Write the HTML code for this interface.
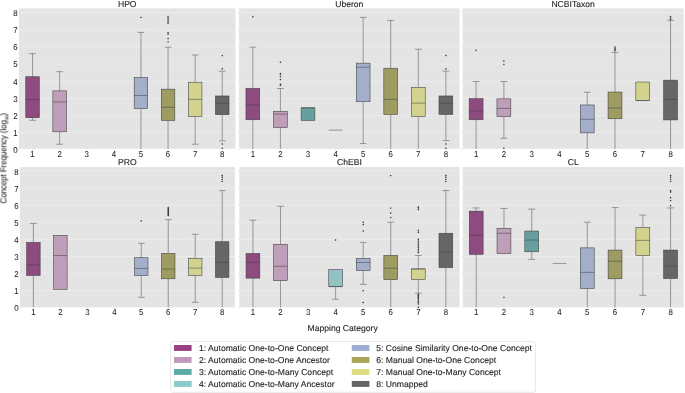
<!DOCTYPE html>
<html><head><meta charset="utf-8"><style>
html,body{margin:0;padding:0;background:#fff;}
svg{display:block;}
text{text-rendering:geometricPrecision;font-family:"Liberation Sans",sans-serif;fill:#262626;stroke:#262626;stroke-width:0.12px;}
.t{font-size:8.2px;}
.k{font-size:8.1px;stroke-width:0.05px;}
.l{font-size:8.2px;}
.yl{font-size:7.8px;stroke-width:0.08px;}
</style></head><body>
<svg width="685" height="393" viewBox="0 0 685 393"><defs><filter id="tb" x="-5%" y="-5%" width="110%" height="110%"><feGaussianBlur stdDeviation="0.35"/></filter></defs>
<rect x="19" y="8.4" width="216.5" height="140.4" fill="#e4e4e4"/>
<line x1="19" x2="235.5" y1="132.58" y2="132.58" stroke="#ececec" stroke-width="0.9"/>
<line x1="19" x2="235.5" y1="115.46" y2="115.46" stroke="#ececec" stroke-width="0.9"/>
<line x1="19" x2="235.5" y1="98.34" y2="98.34" stroke="#ececec" stroke-width="0.9"/>
<line x1="19" x2="235.5" y1="81.22" y2="81.22" stroke="#ececec" stroke-width="0.9"/>
<line x1="19" x2="235.5" y1="64.1" y2="64.1" stroke="#ececec" stroke-width="0.9"/>
<line x1="19" x2="235.5" y1="46.98" y2="46.98" stroke="#ececec" stroke-width="0.9"/>
<line x1="19" x2="235.5" y1="29.86" y2="29.86" stroke="#ececec" stroke-width="0.9"/>
<line x1="19" x2="235.5" y1="12.74" y2="12.74" stroke="#ececec" stroke-width="0.9"/>
<line x1="17.4" x2="19" y1="149.7" y2="149.7" stroke="#d6d6d6" stroke-width="0.6"/>
<line x1="17.4" x2="19" y1="132.58" y2="132.58" stroke="#d6d6d6" stroke-width="0.6"/>
<line x1="17.4" x2="19" y1="115.46" y2="115.46" stroke="#d6d6d6" stroke-width="0.6"/>
<line x1="17.4" x2="19" y1="98.34" y2="98.34" stroke="#d6d6d6" stroke-width="0.6"/>
<line x1="17.4" x2="19" y1="81.22" y2="81.22" stroke="#d6d6d6" stroke-width="0.6"/>
<line x1="17.4" x2="19" y1="64.1" y2="64.1" stroke="#d6d6d6" stroke-width="0.6"/>
<line x1="17.4" x2="19" y1="46.98" y2="46.98" stroke="#d6d6d6" stroke-width="0.6"/>
<line x1="17.4" x2="19" y1="29.86" y2="29.86" stroke="#d6d6d6" stroke-width="0.6"/>
<line x1="17.4" x2="19" y1="12.74" y2="12.74" stroke="#d6d6d6" stroke-width="0.6"/>
<line x1="32.55" x2="32.55" y1="148.8" y2="150.4" stroke="#d0d0d0" stroke-width="0.6"/>
<line x1="59.65" x2="59.65" y1="148.8" y2="150.4" stroke="#d0d0d0" stroke-width="0.6"/>
<line x1="86.75" x2="86.75" y1="148.8" y2="150.4" stroke="#d0d0d0" stroke-width="0.6"/>
<line x1="113.85" x2="113.85" y1="148.8" y2="150.4" stroke="#d0d0d0" stroke-width="0.6"/>
<line x1="140.95" x2="140.95" y1="148.8" y2="150.4" stroke="#d0d0d0" stroke-width="0.6"/>
<line x1="168.05" x2="168.05" y1="148.8" y2="150.4" stroke="#d0d0d0" stroke-width="0.6"/>
<line x1="195.15" x2="195.15" y1="148.8" y2="150.4" stroke="#d0d0d0" stroke-width="0.6"/>
<line x1="222.25" x2="222.25" y1="148.8" y2="150.4" stroke="#d0d0d0" stroke-width="0.6"/>
<line x1="32.55" x2="32.55" y1="117.72" y2="120.27" stroke="#6c6c6c" stroke-width="0.65"/>
<line x1="29.16" x2="35.94" y1="120.27" y2="120.27" stroke="#6c6c6c" stroke-width="0.65"/>
<line x1="32.55" x2="32.55" y1="76.75" y2="53.63" stroke="#6c6c6c" stroke-width="0.65"/>
<line x1="29.16" x2="35.94" y1="53.63" y2="53.63" stroke="#6c6c6c" stroke-width="0.65"/>
<rect x="25.77" y="76.75" width="13.55" height="40.97" fill="#8e4b7f" stroke="#3d3d3d" stroke-width="0.55"/>
<line x1="25.77" x2="39.32" y1="99.53" y2="99.53" stroke="#3d3d3d" stroke-width="0.5"/>
<line x1="59.65" x2="59.65" y1="131.83" y2="144.24" stroke="#6c6c6c" stroke-width="0.65"/>
<line x1="56.26" x2="63.04" y1="144.24" y2="144.24" stroke="#6c6c6c" stroke-width="0.65"/>
<line x1="59.65" x2="59.65" y1="90.86" y2="71.65" stroke="#6c6c6c" stroke-width="0.65"/>
<line x1="56.26" x2="63.04" y1="71.65" y2="71.65" stroke="#6c6c6c" stroke-width="0.65"/>
<rect x="52.88" y="90.86" width="13.55" height="40.97" fill="#be9eb8" stroke="#3d3d3d" stroke-width="0.55"/>
<line x1="52.88" x2="66.42" y1="101.91" y2="101.91" stroke="#3d3d3d" stroke-width="0.5"/>
<line x1="140.95" x2="140.95" y1="108.54" y2="148.8" stroke="#6c6c6c" stroke-width="0.65"/>
<line x1="140.95" x2="140.95" y1="77.6" y2="32.38" stroke="#6c6c6c" stroke-width="0.65"/>
<line x1="137.56" x2="144.34" y1="32.38" y2="32.38" stroke="#6c6c6c" stroke-width="0.65"/>
<rect x="134.17" y="77.6" width="13.55" height="30.94" fill="#a3aecb" stroke="#3d3d3d" stroke-width="0.55"/>
<line x1="134.17" x2="147.72" y1="95.45" y2="95.45" stroke="#3d3d3d" stroke-width="0.5"/>
<path d="M140.95 16.47l0.95 0.95l-0.95 0.95l-0.95 -0.95z" fill="#3a3a3a"/>
<line x1="168.05" x2="168.05" y1="120.44" y2="148.8" stroke="#6c6c6c" stroke-width="0.65"/>
<line x1="168.05" x2="168.05" y1="89.16" y2="47.17" stroke="#6c6c6c" stroke-width="0.65"/>
<line x1="164.66" x2="171.44" y1="47.17" y2="47.17" stroke="#6c6c6c" stroke-width="0.65"/>
<rect x="161.28" y="89.16" width="13.55" height="31.28" fill="#9e9c62" stroke="#3d3d3d" stroke-width="0.55"/>
<line x1="161.28" x2="174.83" y1="107.35" y2="107.35" stroke="#3d3d3d" stroke-width="0.5"/>
<path d="M168.05 15.62l0.95 0.95l-0.95 0.95l-0.95 -0.95z" fill="#3a3a3a"/>
<path d="M168.05 17.32l0.95 0.95l-0.95 0.95l-0.95 -0.95z" fill="#3a3a3a"/>
<path d="M168.05 19.02l0.95 0.95l-0.95 0.95l-0.95 -0.95z" fill="#3a3a3a"/>
<path d="M168.05 20.72l0.95 0.95l-0.95 0.95l-0.95 -0.95z" fill="#3a3a3a"/>
<path d="M168.05 22.25l0.95 0.95l-0.95 0.95l-0.95 -0.95z" fill="#3a3a3a"/>
<path d="M168.05 31.77l0.95 0.95l-0.95 0.95l-0.95 -0.95z" fill="#3a3a3a"/>
<path d="M168.05 33.13l0.95 0.95l-0.95 0.95l-0.95 -0.95z" fill="#3a3a3a"/>
<path d="M168.05 37.55l0.95 0.95l-0.95 0.95l-0.95 -0.95z" fill="#3a3a3a"/>
<path d="M168.05 40.95l0.95 0.95l-0.95 0.95l-0.95 -0.95z" fill="#3a3a3a"/>
<line x1="195.15" x2="195.15" y1="116.36" y2="144.24" stroke="#6c6c6c" stroke-width="0.65"/>
<line x1="191.76" x2="198.54" y1="144.24" y2="144.24" stroke="#6c6c6c" stroke-width="0.65"/>
<line x1="195.15" x2="195.15" y1="82.19" y2="54.99" stroke="#6c6c6c" stroke-width="0.65"/>
<line x1="191.76" x2="198.54" y1="54.99" y2="54.99" stroke="#6c6c6c" stroke-width="0.65"/>
<rect x="188.38" y="82.19" width="13.55" height="34.17" fill="#d2d38f" stroke="#3d3d3d" stroke-width="0.55"/>
<line x1="188.38" x2="201.93" y1="99.36" y2="99.36" stroke="#3d3d3d" stroke-width="0.5"/>
<line x1="222.25" x2="222.25" y1="114.66" y2="140.84" stroke="#6c6c6c" stroke-width="0.65"/>
<line x1="218.86" x2="225.64" y1="140.84" y2="140.84" stroke="#6c6c6c" stroke-width="0.65"/>
<line x1="222.25" x2="222.25" y1="95.96" y2="71.14" stroke="#6c6c6c" stroke-width="0.65"/>
<line x1="218.86" x2="225.64" y1="71.14" y2="71.14" stroke="#6c6c6c" stroke-width="0.65"/>
<rect x="215.47" y="95.96" width="13.55" height="18.7" fill="#666666" stroke="#3d3d3d" stroke-width="0.55"/>
<line x1="215.47" x2="229.03" y1="103.27" y2="103.27" stroke="#3d3d3d" stroke-width="0.5"/>
<path d="M222.25 54.72l0.95 0.95l-0.95 0.95l-0.95 -0.95z" fill="#3a3a3a"/>
<path d="M222.25 67.81l0.95 0.95l-0.95 0.95l-0.95 -0.95z" fill="#3a3a3a"/>
<path d="M222.25 143.12l0.95 0.95l-0.95 0.95l-0.95 -0.95z" fill="#3a3a3a"/>
<path d="M222.25 147.2l0.95 0.95l-0.95 0.95l-0.95 -0.95z" fill="#3a3a3a"/>
<rect x="239" y="8.4" width="220.6" height="140.4" fill="#e4e4e4"/>
<line x1="239" x2="459.6" y1="132.58" y2="132.58" stroke="#ececec" stroke-width="0.9"/>
<line x1="239" x2="459.6" y1="115.46" y2="115.46" stroke="#ececec" stroke-width="0.9"/>
<line x1="239" x2="459.6" y1="98.34" y2="98.34" stroke="#ececec" stroke-width="0.9"/>
<line x1="239" x2="459.6" y1="81.22" y2="81.22" stroke="#ececec" stroke-width="0.9"/>
<line x1="239" x2="459.6" y1="64.1" y2="64.1" stroke="#ececec" stroke-width="0.9"/>
<line x1="239" x2="459.6" y1="46.98" y2="46.98" stroke="#ececec" stroke-width="0.9"/>
<line x1="239" x2="459.6" y1="29.86" y2="29.86" stroke="#ececec" stroke-width="0.9"/>
<line x1="239" x2="459.6" y1="12.74" y2="12.74" stroke="#ececec" stroke-width="0.9"/>
<line x1="237.4" x2="239" y1="149.7" y2="149.7" stroke="#d6d6d6" stroke-width="0.6"/>
<line x1="237.4" x2="239" y1="132.58" y2="132.58" stroke="#d6d6d6" stroke-width="0.6"/>
<line x1="237.4" x2="239" y1="115.46" y2="115.46" stroke="#d6d6d6" stroke-width="0.6"/>
<line x1="237.4" x2="239" y1="98.34" y2="98.34" stroke="#d6d6d6" stroke-width="0.6"/>
<line x1="237.4" x2="239" y1="81.22" y2="81.22" stroke="#d6d6d6" stroke-width="0.6"/>
<line x1="237.4" x2="239" y1="64.1" y2="64.1" stroke="#d6d6d6" stroke-width="0.6"/>
<line x1="237.4" x2="239" y1="46.98" y2="46.98" stroke="#d6d6d6" stroke-width="0.6"/>
<line x1="237.4" x2="239" y1="29.86" y2="29.86" stroke="#d6d6d6" stroke-width="0.6"/>
<line x1="237.4" x2="239" y1="12.74" y2="12.74" stroke="#d6d6d6" stroke-width="0.6"/>
<line x1="252.85" x2="252.85" y1="148.8" y2="150.4" stroke="#d0d0d0" stroke-width="0.6"/>
<line x1="280.43" x2="280.43" y1="148.8" y2="150.4" stroke="#d0d0d0" stroke-width="0.6"/>
<line x1="308" x2="308" y1="148.8" y2="150.4" stroke="#d0d0d0" stroke-width="0.6"/>
<line x1="335.57" x2="335.57" y1="148.8" y2="150.4" stroke="#d0d0d0" stroke-width="0.6"/>
<line x1="363.15" x2="363.15" y1="148.8" y2="150.4" stroke="#d0d0d0" stroke-width="0.6"/>
<line x1="390.73" x2="390.73" y1="148.8" y2="150.4" stroke="#d0d0d0" stroke-width="0.6"/>
<line x1="418.3" x2="418.3" y1="148.8" y2="150.4" stroke="#d0d0d0" stroke-width="0.6"/>
<line x1="445.88" x2="445.88" y1="148.8" y2="150.4" stroke="#d0d0d0" stroke-width="0.6"/>
<line x1="252.85" x2="252.85" y1="119.76" y2="148.8" stroke="#6c6c6c" stroke-width="0.65"/>
<line x1="252.85" x2="252.85" y1="88.48" y2="47.17" stroke="#6c6c6c" stroke-width="0.65"/>
<line x1="249.4" x2="256.3" y1="47.17" y2="47.17" stroke="#6c6c6c" stroke-width="0.65"/>
<rect x="245.96" y="88.48" width="13.79" height="31.28" fill="#8e4b7f" stroke="#3d3d3d" stroke-width="0.55"/>
<line x1="245.96" x2="259.74" y1="104.97" y2="104.97" stroke="#3d3d3d" stroke-width="0.5"/>
<path d="M252.85 15.79l0.95 0.95l-0.95 0.95l-0.95 -0.95z" fill="#3a3a3a"/>
<line x1="280.43" x2="280.43" y1="127.58" y2="148.8" stroke="#6c6c6c" stroke-width="0.65"/>
<line x1="280.43" x2="280.43" y1="111.26" y2="88.48" stroke="#6c6c6c" stroke-width="0.65"/>
<line x1="276.98" x2="283.87" y1="88.48" y2="88.48" stroke="#6c6c6c" stroke-width="0.65"/>
<rect x="273.53" y="111.26" width="13.79" height="16.32" fill="#be9eb8" stroke="#3d3d3d" stroke-width="0.55"/>
<line x1="273.53" x2="287.32" y1="114.15" y2="114.15" stroke="#3d3d3d" stroke-width="0.5"/>
<path d="M280.43 61.35l0.95 0.95l-0.95 0.95l-0.95 -0.95z" fill="#3a3a3a"/>
<path d="M280.43 72.66l0.95 0.95l-0.95 0.95l-0.95 -0.95z" fill="#3a3a3a"/>
<path d="M280.43 73.42l0.95 0.95l-0.95 0.95l-0.95 -0.95z" fill="#3a3a3a"/>
<path d="M280.43 75.63l0.95 0.95l-0.95 0.95l-0.95 -0.95z" fill="#3a3a3a"/>
<path d="M280.43 78.52l0.95 0.95l-0.95 0.95l-0.95 -0.95z" fill="#3a3a3a"/>
<path d="M280.43 83.28l0.95 0.95l-0.95 0.95l-0.95 -0.95z" fill="#3a3a3a"/>
<path d="M280.43 84.3l0.95 0.95l-0.95 0.95l-0.95 -0.95z" fill="#3a3a3a"/>
<rect x="301.11" y="107.86" width="13.79" height="12.58" fill="#66a09e" stroke="#3d3d3d" stroke-width="0.55"/>
<line x1="301.11" x2="314.89" y1="107.86" y2="107.86" stroke="#3d3d3d" stroke-width="0.5"/>
<line x1="328.68" x2="342.47" y1="130.12" y2="130.12" stroke="#9a9a9a" stroke-width="1.1"/>
<line x1="363.15" x2="363.15" y1="101.74" y2="143.56" stroke="#6c6c6c" stroke-width="0.65"/>
<line x1="359.7" x2="366.6" y1="143.56" y2="143.56" stroke="#6c6c6c" stroke-width="0.65"/>
<line x1="363.15" x2="363.15" y1="63.15" y2="17.42" stroke="#6c6c6c" stroke-width="0.65"/>
<line x1="359.7" x2="366.6" y1="17.42" y2="17.42" stroke="#6c6c6c" stroke-width="0.65"/>
<rect x="356.26" y="63.15" width="13.79" height="38.59" fill="#a3aecb" stroke="#3d3d3d" stroke-width="0.55"/>
<line x1="356.26" x2="370.04" y1="67.23" y2="67.23" stroke="#3d3d3d" stroke-width="0.5"/>
<line x1="390.73" x2="390.73" y1="114.49" y2="148.8" stroke="#6c6c6c" stroke-width="0.65"/>
<line x1="390.73" x2="390.73" y1="68.25" y2="20.48" stroke="#6c6c6c" stroke-width="0.65"/>
<line x1="387.28" x2="394.17" y1="20.48" y2="20.48" stroke="#6c6c6c" stroke-width="0.65"/>
<rect x="383.83" y="68.25" width="13.79" height="46.24" fill="#9e9c62" stroke="#3d3d3d" stroke-width="0.55"/>
<line x1="383.83" x2="397.62" y1="99.36" y2="99.36" stroke="#3d3d3d" stroke-width="0.5"/>
<line x1="418.3" x2="418.3" y1="116.36" y2="148.8" stroke="#6c6c6c" stroke-width="0.65"/>
<line x1="418.3" x2="418.3" y1="87.29" y2="49.21" stroke="#6c6c6c" stroke-width="0.65"/>
<line x1="414.85" x2="421.75" y1="49.21" y2="49.21" stroke="#6c6c6c" stroke-width="0.65"/>
<rect x="411.41" y="87.29" width="13.79" height="29.07" fill="#d2d38f" stroke="#3d3d3d" stroke-width="0.55"/>
<line x1="411.41" x2="425.19" y1="103.1" y2="103.1" stroke="#3d3d3d" stroke-width="0.5"/>
<line x1="445.88" x2="445.88" y1="114.49" y2="140.67" stroke="#6c6c6c" stroke-width="0.65"/>
<line x1="442.43" x2="449.32" y1="140.67" y2="140.67" stroke="#6c6c6c" stroke-width="0.65"/>
<line x1="445.88" x2="445.88" y1="95.96" y2="71.14" stroke="#6c6c6c" stroke-width="0.65"/>
<line x1="442.43" x2="449.32" y1="71.14" y2="71.14" stroke="#6c6c6c" stroke-width="0.65"/>
<rect x="438.98" y="95.96" width="13.79" height="18.53" fill="#666666" stroke="#3d3d3d" stroke-width="0.55"/>
<line x1="438.98" x2="452.77" y1="103.1" y2="103.1" stroke="#3d3d3d" stroke-width="0.5"/>
<path d="M445.88 54.55l0.95 0.95l-0.95 0.95l-0.95 -0.95z" fill="#3a3a3a"/>
<path d="M445.88 67.98l0.95 0.95l-0.95 0.95l-0.95 -0.95z" fill="#3a3a3a"/>
<path d="M445.88 143.12l0.95 0.95l-0.95 0.95l-0.95 -0.95z" fill="#3a3a3a"/>
<path d="M445.88 147.2l0.95 0.95l-0.95 0.95l-0.95 -0.95z" fill="#3a3a3a"/>
<rect x="462.6" y="8.4" width="221.1" height="140.4" fill="#e4e4e4"/>
<line x1="462.6" x2="683.7" y1="132.58" y2="132.58" stroke="#ececec" stroke-width="0.9"/>
<line x1="462.6" x2="683.7" y1="115.46" y2="115.46" stroke="#ececec" stroke-width="0.9"/>
<line x1="462.6" x2="683.7" y1="98.34" y2="98.34" stroke="#ececec" stroke-width="0.9"/>
<line x1="462.6" x2="683.7" y1="81.22" y2="81.22" stroke="#ececec" stroke-width="0.9"/>
<line x1="462.6" x2="683.7" y1="64.1" y2="64.1" stroke="#ececec" stroke-width="0.9"/>
<line x1="462.6" x2="683.7" y1="46.98" y2="46.98" stroke="#ececec" stroke-width="0.9"/>
<line x1="462.6" x2="683.7" y1="29.86" y2="29.86" stroke="#ececec" stroke-width="0.9"/>
<line x1="462.6" x2="683.7" y1="12.74" y2="12.74" stroke="#ececec" stroke-width="0.9"/>
<line x1="461" x2="462.6" y1="149.7" y2="149.7" stroke="#d6d6d6" stroke-width="0.6"/>
<line x1="461" x2="462.6" y1="132.58" y2="132.58" stroke="#d6d6d6" stroke-width="0.6"/>
<line x1="461" x2="462.6" y1="115.46" y2="115.46" stroke="#d6d6d6" stroke-width="0.6"/>
<line x1="461" x2="462.6" y1="98.34" y2="98.34" stroke="#d6d6d6" stroke-width="0.6"/>
<line x1="461" x2="462.6" y1="81.22" y2="81.22" stroke="#d6d6d6" stroke-width="0.6"/>
<line x1="461" x2="462.6" y1="64.1" y2="64.1" stroke="#d6d6d6" stroke-width="0.6"/>
<line x1="461" x2="462.6" y1="46.98" y2="46.98" stroke="#d6d6d6" stroke-width="0.6"/>
<line x1="461" x2="462.6" y1="29.86" y2="29.86" stroke="#d6d6d6" stroke-width="0.6"/>
<line x1="461" x2="462.6" y1="12.74" y2="12.74" stroke="#d6d6d6" stroke-width="0.6"/>
<line x1="476.1" x2="476.1" y1="148.8" y2="150.4" stroke="#d0d0d0" stroke-width="0.6"/>
<line x1="503.88" x2="503.88" y1="148.8" y2="150.4" stroke="#d0d0d0" stroke-width="0.6"/>
<line x1="531.66" x2="531.66" y1="148.8" y2="150.4" stroke="#d0d0d0" stroke-width="0.6"/>
<line x1="559.44" x2="559.44" y1="148.8" y2="150.4" stroke="#d0d0d0" stroke-width="0.6"/>
<line x1="587.22" x2="587.22" y1="148.8" y2="150.4" stroke="#d0d0d0" stroke-width="0.6"/>
<line x1="615" x2="615" y1="148.8" y2="150.4" stroke="#d0d0d0" stroke-width="0.6"/>
<line x1="642.78" x2="642.78" y1="148.8" y2="150.4" stroke="#d0d0d0" stroke-width="0.6"/>
<line x1="670.56" x2="670.56" y1="148.8" y2="150.4" stroke="#d0d0d0" stroke-width="0.6"/>
<line x1="476.1" x2="476.1" y1="119.76" y2="148.8" stroke="#6c6c6c" stroke-width="0.65"/>
<line x1="476.1" x2="476.1" y1="98.68" y2="81.51" stroke="#6c6c6c" stroke-width="0.65"/>
<line x1="472.63" x2="479.57" y1="81.51" y2="81.51" stroke="#6c6c6c" stroke-width="0.65"/>
<rect x="469.16" y="98.68" width="13.89" height="21.08" fill="#8e4b7f" stroke="#3d3d3d" stroke-width="0.55"/>
<line x1="469.16" x2="483.05" y1="110.92" y2="110.92" stroke="#3d3d3d" stroke-width="0.5"/>
<path d="M476.1 49.28l0.95 0.95l-0.95 0.95l-0.95 -0.95z" fill="#3a3a3a"/>
<line x1="503.88" x2="503.88" y1="116.53" y2="138.29" stroke="#6c6c6c" stroke-width="0.65"/>
<line x1="500.41" x2="507.35" y1="138.29" y2="138.29" stroke="#6c6c6c" stroke-width="0.65"/>
<line x1="503.88" x2="503.88" y1="98.85" y2="81.51" stroke="#6c6c6c" stroke-width="0.65"/>
<line x1="500.41" x2="507.35" y1="81.51" y2="81.51" stroke="#6c6c6c" stroke-width="0.65"/>
<rect x="496.94" y="98.85" width="13.89" height="17.68" fill="#be9eb8" stroke="#3d3d3d" stroke-width="0.55"/>
<line x1="496.94" x2="510.82" y1="108.37" y2="108.37" stroke="#3d3d3d" stroke-width="0.5"/>
<path d="M503.88 59.99l0.95 0.95l-0.95 0.95l-0.95 -0.95z" fill="#3a3a3a"/>
<path d="M503.88 63.39l0.95 0.95l-0.95 0.95l-0.95 -0.95z" fill="#3a3a3a"/>
<path d="M503.88 147.2l0.95 0.95l-0.95 0.95l-0.95 -0.95z" fill="#3a3a3a"/>
<line x1="587.22" x2="587.22" y1="132.85" y2="148.8" stroke="#6c6c6c" stroke-width="0.65"/>
<line x1="587.22" x2="587.22" y1="104.97" y2="92.22" stroke="#6c6c6c" stroke-width="0.65"/>
<line x1="583.75" x2="590.69" y1="92.22" y2="92.22" stroke="#6c6c6c" stroke-width="0.65"/>
<rect x="580.27" y="104.97" width="13.89" height="27.88" fill="#a3aecb" stroke="#3d3d3d" stroke-width="0.55"/>
<line x1="580.27" x2="594.17" y1="119.25" y2="119.25" stroke="#3d3d3d" stroke-width="0.5"/>
<line x1="615" x2="615" y1="118.74" y2="148.8" stroke="#6c6c6c" stroke-width="0.65"/>
<line x1="615" x2="615" y1="92.05" y2="52.44" stroke="#6c6c6c" stroke-width="0.65"/>
<line x1="611.53" x2="618.47" y1="52.44" y2="52.44" stroke="#6c6c6c" stroke-width="0.65"/>
<rect x="608.05" y="92.05" width="13.89" height="26.69" fill="#9e9c62" stroke="#3d3d3d" stroke-width="0.55"/>
<line x1="608.05" x2="621.95" y1="108.03" y2="108.03" stroke="#3d3d3d" stroke-width="0.5"/>
<path d="M615 49.79l0.95 0.95l-0.95 0.95l-0.95 -0.95z" fill="#3a3a3a"/>
<path d="M615 48.6l0.95 0.95l-0.95 0.95l-0.95 -0.95z" fill="#3a3a3a"/>
<path d="M615 47.41l0.95 0.95l-0.95 0.95l-0.95 -0.95z" fill="#3a3a3a"/>
<path d="M615 46.05l0.95 0.95l-0.95 0.95l-0.95 -0.95z" fill="#3a3a3a"/>
<rect x="635.83" y="82.02" width="13.89" height="18.53" fill="#d2d38f" stroke="#3d3d3d" stroke-width="0.55"/>
<line x1="635.83" x2="649.73" y1="100.55" y2="100.55" stroke="#3d3d3d" stroke-width="0.5"/>
<line x1="670.56" x2="670.56" y1="119.93" y2="148.8" stroke="#6c6c6c" stroke-width="0.65"/>
<line x1="670.56" x2="670.56" y1="80.15" y2="20.31" stroke="#6c6c6c" stroke-width="0.65"/>
<line x1="667.09" x2="674.03" y1="20.31" y2="20.31" stroke="#6c6c6c" stroke-width="0.65"/>
<rect x="663.62" y="80.15" width="13.89" height="39.78" fill="#666666" stroke="#3d3d3d" stroke-width="0.55"/>
<line x1="663.62" x2="677.51" y1="99.36" y2="99.36" stroke="#3d3d3d" stroke-width="0.5"/>
<path d="M670.56 18.51l0.95 0.95l-0.95 0.95l-0.95 -0.95z" fill="#3a3a3a"/>
<path d="M670.56 17.15l0.95 0.95l-0.95 0.95l-0.95 -0.95z" fill="#3a3a3a"/>
<path d="M670.56 15.79l0.95 0.95l-0.95 0.95l-0.95 -0.95z" fill="#3a3a3a"/>
<rect x="19.9" y="167.1" width="215" height="140.3" fill="#e4e4e4"/>
<line x1="19.9" x2="234.9" y1="290.77" y2="290.77" stroke="#ececec" stroke-width="0.9"/>
<line x1="19.9" x2="234.9" y1="273.64" y2="273.64" stroke="#ececec" stroke-width="0.9"/>
<line x1="19.9" x2="234.9" y1="256.51" y2="256.51" stroke="#ececec" stroke-width="0.9"/>
<line x1="19.9" x2="234.9" y1="239.38" y2="239.38" stroke="#ececec" stroke-width="0.9"/>
<line x1="19.9" x2="234.9" y1="222.25" y2="222.25" stroke="#ececec" stroke-width="0.9"/>
<line x1="19.9" x2="234.9" y1="205.12" y2="205.12" stroke="#ececec" stroke-width="0.9"/>
<line x1="19.9" x2="234.9" y1="187.99" y2="187.99" stroke="#ececec" stroke-width="0.9"/>
<line x1="19.9" x2="234.9" y1="170.86" y2="170.86" stroke="#ececec" stroke-width="0.9"/>
<line x1="18.3" x2="19.9" y1="307.9" y2="307.9" stroke="#d6d6d6" stroke-width="0.6"/>
<line x1="18.3" x2="19.9" y1="290.77" y2="290.77" stroke="#d6d6d6" stroke-width="0.6"/>
<line x1="18.3" x2="19.9" y1="273.64" y2="273.64" stroke="#d6d6d6" stroke-width="0.6"/>
<line x1="18.3" x2="19.9" y1="256.51" y2="256.51" stroke="#d6d6d6" stroke-width="0.6"/>
<line x1="18.3" x2="19.9" y1="239.38" y2="239.38" stroke="#d6d6d6" stroke-width="0.6"/>
<line x1="18.3" x2="19.9" y1="222.25" y2="222.25" stroke="#d6d6d6" stroke-width="0.6"/>
<line x1="18.3" x2="19.9" y1="205.12" y2="205.12" stroke="#d6d6d6" stroke-width="0.6"/>
<line x1="18.3" x2="19.9" y1="187.99" y2="187.99" stroke="#d6d6d6" stroke-width="0.6"/>
<line x1="18.3" x2="19.9" y1="170.86" y2="170.86" stroke="#d6d6d6" stroke-width="0.6"/>
<line x1="33.4" x2="33.4" y1="307.4" y2="309" stroke="#d0d0d0" stroke-width="0.6"/>
<line x1="60.37" x2="60.37" y1="307.4" y2="309" stroke="#d0d0d0" stroke-width="0.6"/>
<line x1="87.34" x2="87.34" y1="307.4" y2="309" stroke="#d0d0d0" stroke-width="0.6"/>
<line x1="114.31" x2="114.31" y1="307.4" y2="309" stroke="#d0d0d0" stroke-width="0.6"/>
<line x1="141.28" x2="141.28" y1="307.4" y2="309" stroke="#d0d0d0" stroke-width="0.6"/>
<line x1="168.25" x2="168.25" y1="307.4" y2="309" stroke="#d0d0d0" stroke-width="0.6"/>
<line x1="195.22" x2="195.22" y1="307.4" y2="309" stroke="#d0d0d0" stroke-width="0.6"/>
<line x1="222.19" x2="222.19" y1="307.4" y2="309" stroke="#d0d0d0" stroke-width="0.6"/>
<line x1="33.4" x2="33.4" y1="275.41" y2="307.2" stroke="#6c6c6c" stroke-width="0.65"/>
<line x1="33.4" x2="33.4" y1="242.43" y2="223.39" stroke="#6c6c6c" stroke-width="0.65"/>
<line x1="30.03" x2="36.77" y1="223.39" y2="223.39" stroke="#6c6c6c" stroke-width="0.65"/>
<rect x="26.66" y="242.43" width="13.48" height="32.98" fill="#8e4b7f" stroke="#3d3d3d" stroke-width="0.55"/>
<line x1="26.66" x2="40.14" y1="264.87" y2="264.87" stroke="#3d3d3d" stroke-width="0.5"/>
<rect x="53.63" y="235.29" width="13.48" height="54.06" fill="#be9eb8" stroke="#3d3d3d" stroke-width="0.55"/>
<line x1="53.63" x2="67.11" y1="255.52" y2="255.52" stroke="#3d3d3d" stroke-width="0.5"/>
<line x1="141.28" x2="141.28" y1="275.58" y2="297.34" stroke="#6c6c6c" stroke-width="0.65"/>
<line x1="137.91" x2="144.65" y1="297.34" y2="297.34" stroke="#6c6c6c" stroke-width="0.65"/>
<line x1="141.28" x2="141.28" y1="257.73" y2="243.28" stroke="#6c6c6c" stroke-width="0.65"/>
<line x1="137.91" x2="144.65" y1="243.28" y2="243.28" stroke="#6c6c6c" stroke-width="0.65"/>
<rect x="134.54" y="257.73" width="13.48" height="17.85" fill="#a3aecb" stroke="#3d3d3d" stroke-width="0.55"/>
<line x1="134.54" x2="148.02" y1="268.44" y2="268.44" stroke="#3d3d3d" stroke-width="0.5"/>
<path d="M141.28 220.06l0.95 0.95l-0.95 0.95l-0.95 -0.95z" fill="#3a3a3a"/>
<line x1="168.25" x2="168.25" y1="278.81" y2="307.2" stroke="#6c6c6c" stroke-width="0.65"/>
<line x1="168.25" x2="168.25" y1="253.48" y2="219.65" stroke="#6c6c6c" stroke-width="0.65"/>
<line x1="164.88" x2="171.62" y1="219.65" y2="219.65" stroke="#6c6c6c" stroke-width="0.65"/>
<rect x="161.51" y="253.48" width="13.48" height="25.33" fill="#9e9c62" stroke="#3d3d3d" stroke-width="0.55"/>
<line x1="161.51" x2="174.99" y1="269.12" y2="269.12" stroke="#3d3d3d" stroke-width="0.5"/>
<path d="M168.25 214.62l0.95 0.95l-0.95 0.95l-0.95 -0.95z" fill="#3a3a3a"/>
<path d="M168.25 213.6l0.95 0.95l-0.95 0.95l-0.95 -0.95z" fill="#3a3a3a"/>
<path d="M168.25 212.58l0.95 0.95l-0.95 0.95l-0.95 -0.95z" fill="#3a3a3a"/>
<path d="M168.25 211.56l0.95 0.95l-0.95 0.95l-0.95 -0.95z" fill="#3a3a3a"/>
<path d="M168.25 210.54l0.95 0.95l-0.95 0.95l-0.95 -0.95z" fill="#3a3a3a"/>
<path d="M168.25 209.52l0.95 0.95l-0.95 0.95l-0.95 -0.95z" fill="#3a3a3a"/>
<path d="M168.25 208.5l0.95 0.95l-0.95 0.95l-0.95 -0.95z" fill="#3a3a3a"/>
<path d="M168.25 207.48l0.95 0.95l-0.95 0.95l-0.95 -0.95z" fill="#3a3a3a"/>
<path d="M168.25 206.46l0.95 0.95l-0.95 0.95l-0.95 -0.95z" fill="#3a3a3a"/>
<line x1="195.22" x2="195.22" y1="275.58" y2="302.27" stroke="#6c6c6c" stroke-width="0.65"/>
<line x1="191.85" x2="198.59" y1="302.27" y2="302.27" stroke="#6c6c6c" stroke-width="0.65"/>
<line x1="195.22" x2="195.22" y1="258.24" y2="234.27" stroke="#6c6c6c" stroke-width="0.65"/>
<line x1="191.85" x2="198.59" y1="234.27" y2="234.27" stroke="#6c6c6c" stroke-width="0.65"/>
<rect x="188.48" y="258.24" width="13.48" height="17.34" fill="#d2d38f" stroke="#3d3d3d" stroke-width="0.55"/>
<line x1="188.48" x2="201.96" y1="268.1" y2="268.1" stroke="#3d3d3d" stroke-width="0.5"/>
<line x1="222.19" x2="222.19" y1="277.45" y2="307.2" stroke="#6c6c6c" stroke-width="0.65"/>
<line x1="222.19" x2="222.19" y1="241.75" y2="190.58" stroke="#6c6c6c" stroke-width="0.65"/>
<line x1="218.82" x2="225.56" y1="190.58" y2="190.58" stroke="#6c6c6c" stroke-width="0.65"/>
<rect x="215.45" y="241.75" width="13.48" height="35.7" fill="#666666" stroke="#3d3d3d" stroke-width="0.55"/>
<line x1="215.45" x2="228.93" y1="262.32" y2="262.32" stroke="#3d3d3d" stroke-width="0.5"/>
<path d="M222.19 174.5l0.95 0.95l-0.95 0.95l-0.95 -0.95z" fill="#3a3a3a"/>
<path d="M222.19 176.37l0.95 0.95l-0.95 0.95l-0.95 -0.95z" fill="#3a3a3a"/>
<path d="M222.19 178.41l0.95 0.95l-0.95 0.95l-0.95 -0.95z" fill="#3a3a3a"/>
<path d="M222.19 180.45l0.95 0.95l-0.95 0.95l-0.95 -0.95z" fill="#3a3a3a"/>
<rect x="239.4" y="167.1" width="220.2" height="140.3" fill="#e4e4e4"/>
<line x1="239.4" x2="459.6" y1="290.77" y2="290.77" stroke="#ececec" stroke-width="0.9"/>
<line x1="239.4" x2="459.6" y1="273.64" y2="273.64" stroke="#ececec" stroke-width="0.9"/>
<line x1="239.4" x2="459.6" y1="256.51" y2="256.51" stroke="#ececec" stroke-width="0.9"/>
<line x1="239.4" x2="459.6" y1="239.38" y2="239.38" stroke="#ececec" stroke-width="0.9"/>
<line x1="239.4" x2="459.6" y1="222.25" y2="222.25" stroke="#ececec" stroke-width="0.9"/>
<line x1="239.4" x2="459.6" y1="205.12" y2="205.12" stroke="#ececec" stroke-width="0.9"/>
<line x1="239.4" x2="459.6" y1="187.99" y2="187.99" stroke="#ececec" stroke-width="0.9"/>
<line x1="239.4" x2="459.6" y1="170.86" y2="170.86" stroke="#ececec" stroke-width="0.9"/>
<line x1="237.8" x2="239.4" y1="307.9" y2="307.9" stroke="#d6d6d6" stroke-width="0.6"/>
<line x1="237.8" x2="239.4" y1="290.77" y2="290.77" stroke="#d6d6d6" stroke-width="0.6"/>
<line x1="237.8" x2="239.4" y1="273.64" y2="273.64" stroke="#d6d6d6" stroke-width="0.6"/>
<line x1="237.8" x2="239.4" y1="256.51" y2="256.51" stroke="#d6d6d6" stroke-width="0.6"/>
<line x1="237.8" x2="239.4" y1="239.38" y2="239.38" stroke="#d6d6d6" stroke-width="0.6"/>
<line x1="237.8" x2="239.4" y1="222.25" y2="222.25" stroke="#d6d6d6" stroke-width="0.6"/>
<line x1="237.8" x2="239.4" y1="205.12" y2="205.12" stroke="#d6d6d6" stroke-width="0.6"/>
<line x1="237.8" x2="239.4" y1="187.99" y2="187.99" stroke="#d6d6d6" stroke-width="0.6"/>
<line x1="237.8" x2="239.4" y1="170.86" y2="170.86" stroke="#d6d6d6" stroke-width="0.6"/>
<line x1="252.95" x2="252.95" y1="307.4" y2="309" stroke="#d0d0d0" stroke-width="0.6"/>
<line x1="280.51" x2="280.51" y1="307.4" y2="309" stroke="#d0d0d0" stroke-width="0.6"/>
<line x1="308.07" x2="308.07" y1="307.4" y2="309" stroke="#d0d0d0" stroke-width="0.6"/>
<line x1="335.63" x2="335.63" y1="307.4" y2="309" stroke="#d0d0d0" stroke-width="0.6"/>
<line x1="363.19" x2="363.19" y1="307.4" y2="309" stroke="#d0d0d0" stroke-width="0.6"/>
<line x1="390.75" x2="390.75" y1="307.4" y2="309" stroke="#d0d0d0" stroke-width="0.6"/>
<line x1="418.31" x2="418.31" y1="307.4" y2="309" stroke="#d0d0d0" stroke-width="0.6"/>
<line x1="445.87" x2="445.87" y1="307.4" y2="309" stroke="#d0d0d0" stroke-width="0.6"/>
<line x1="252.95" x2="252.95" y1="278.13" y2="307.2" stroke="#6c6c6c" stroke-width="0.65"/>
<line x1="252.95" x2="252.95" y1="253.48" y2="220.16" stroke="#6c6c6c" stroke-width="0.65"/>
<line x1="249.5" x2="256.39" y1="220.16" y2="220.16" stroke="#6c6c6c" stroke-width="0.65"/>
<rect x="246.06" y="253.48" width="13.78" height="24.65" fill="#8e4b7f" stroke="#3d3d3d" stroke-width="0.55"/>
<line x1="246.06" x2="259.84" y1="262.32" y2="262.32" stroke="#3d3d3d" stroke-width="0.5"/>
<line x1="280.51" x2="280.51" y1="280.68" y2="307.2" stroke="#6c6c6c" stroke-width="0.65"/>
<line x1="280.51" x2="280.51" y1="244.3" y2="206.22" stroke="#6c6c6c" stroke-width="0.65"/>
<line x1="277.06" x2="283.95" y1="206.22" y2="206.22" stroke="#6c6c6c" stroke-width="0.65"/>
<rect x="273.62" y="244.3" width="13.78" height="36.38" fill="#be9eb8" stroke="#3d3d3d" stroke-width="0.55"/>
<line x1="273.62" x2="287.4" y1="266.23" y2="266.23" stroke="#3d3d3d" stroke-width="0.5"/>
<line x1="335.63" x2="335.63" y1="286.63" y2="299.21" stroke="#6c6c6c" stroke-width="0.65"/>
<line x1="332.19" x2="339.07" y1="299.21" y2="299.21" stroke="#6c6c6c" stroke-width="0.65"/>
<rect x="328.74" y="269.63" width="13.78" height="17" fill="#94c2c4" stroke="#3d3d3d" stroke-width="0.55"/>
<line x1="328.74" x2="342.52" y1="286.63" y2="286.63" stroke="#3d3d3d" stroke-width="0.5"/>
<path d="M335.63 239.1l0.95 0.95l-0.95 0.95l-0.95 -0.95z" fill="#3a3a3a"/>
<line x1="363.19" x2="363.19" y1="270.65" y2="284.42" stroke="#6c6c6c" stroke-width="0.65"/>
<line x1="359.75" x2="366.63" y1="284.42" y2="284.42" stroke="#6c6c6c" stroke-width="0.65"/>
<line x1="363.19" x2="363.19" y1="258.41" y2="242.43" stroke="#6c6c6c" stroke-width="0.65"/>
<line x1="359.75" x2="366.63" y1="242.43" y2="242.43" stroke="#6c6c6c" stroke-width="0.65"/>
<rect x="356.3" y="258.41" width="13.78" height="12.24" fill="#a3aecb" stroke="#3d3d3d" stroke-width="0.55"/>
<line x1="356.3" x2="370.08" y1="262.49" y2="262.49" stroke="#3d3d3d" stroke-width="0.5"/>
<path d="M363.19 221.25l0.95 0.95l-0.95 0.95l-0.95 -0.95z" fill="#3a3a3a"/>
<path d="M363.19 223.63l0.95 0.95l-0.95 0.95l-0.95 -0.95z" fill="#3a3a3a"/>
<path d="M363.19 230.09l0.95 0.95l-0.95 0.95l-0.95 -0.95z" fill="#3a3a3a"/>
<path d="M363.19 289.76l0.95 0.95l-0.95 0.95l-0.95 -0.95z" fill="#3a3a3a"/>
<path d="M363.19 301.49l0.95 0.95l-0.95 0.95l-0.95 -0.95z" fill="#3a3a3a"/>
<line x1="390.75" x2="390.75" y1="279.66" y2="307.2" stroke="#6c6c6c" stroke-width="0.65"/>
<line x1="390.75" x2="390.75" y1="255.35" y2="222.2" stroke="#6c6c6c" stroke-width="0.65"/>
<line x1="387.31" x2="394.19" y1="222.2" y2="222.2" stroke="#6c6c6c" stroke-width="0.65"/>
<rect x="383.86" y="255.35" width="13.78" height="24.31" fill="#9e9c62" stroke="#3d3d3d" stroke-width="0.55"/>
<line x1="383.86" x2="397.64" y1="268.27" y2="268.27" stroke="#3d3d3d" stroke-width="0.5"/>
<path d="M390.75 174.67l0.95 0.95l-0.95 0.95l-0.95 -0.95z" fill="#3a3a3a"/>
<path d="M390.75 207.14l0.95 0.95l-0.95 0.95l-0.95 -0.95z" fill="#3a3a3a"/>
<path d="M390.75 212.07l0.95 0.95l-0.95 0.95l-0.95 -0.95z" fill="#3a3a3a"/>
<path d="M390.75 216.66l0.95 0.95l-0.95 0.95l-0.95 -0.95z" fill="#3a3a3a"/>
<line x1="418.31" x2="418.31" y1="279.49" y2="293.26" stroke="#6c6c6c" stroke-width="0.65"/>
<line x1="414.86" x2="421.75" y1="293.26" y2="293.26" stroke="#6c6c6c" stroke-width="0.65"/>
<line x1="418.31" x2="418.31" y1="268.95" y2="255.52" stroke="#6c6c6c" stroke-width="0.65"/>
<line x1="414.86" x2="421.75" y1="255.52" y2="255.52" stroke="#6c6c6c" stroke-width="0.65"/>
<rect x="411.42" y="268.95" width="13.78" height="10.54" fill="#d2d38f" stroke="#3d3d3d" stroke-width="0.55"/>
<line x1="411.42" x2="425.2" y1="268.95" y2="268.95" stroke="#3d3d3d" stroke-width="0.5"/>
<path d="M418.31 206.12l0.95 0.95l-0.95 0.95l-0.95 -0.95z" fill="#3a3a3a"/>
<path d="M418.31 206.97l0.95 0.95l-0.95 0.95l-0.95 -0.95z" fill="#3a3a3a"/>
<path d="M418.31 208.5l0.95 0.95l-0.95 0.95l-0.95 -0.95z" fill="#3a3a3a"/>
<path d="M418.31 229.41l0.95 0.95l-0.95 0.95l-0.95 -0.95z" fill="#3a3a3a"/>
<path d="M418.31 231.28l0.95 0.95l-0.95 0.95l-0.95 -0.95z" fill="#3a3a3a"/>
<path d="M418.31 238.25l0.95 0.95l-0.95 0.95l-0.95 -0.95z" fill="#3a3a3a"/>
<path d="M418.31 239.95l0.95 0.95l-0.95 0.95l-0.95 -0.95z" fill="#3a3a3a"/>
<path d="M418.31 241.65l0.95 0.95l-0.95 0.95l-0.95 -0.95z" fill="#3a3a3a"/>
<path d="M418.31 243.35l0.95 0.95l-0.95 0.95l-0.95 -0.95z" fill="#3a3a3a"/>
<path d="M418.31 245.05l0.95 0.95l-0.95 0.95l-0.95 -0.95z" fill="#3a3a3a"/>
<path d="M418.31 246.75l0.95 0.95l-0.95 0.95l-0.95 -0.95z" fill="#3a3a3a"/>
<path d="M418.31 248.45l0.95 0.95l-0.95 0.95l-0.95 -0.95z" fill="#3a3a3a"/>
<path d="M418.31 250.15l0.95 0.95l-0.95 0.95l-0.95 -0.95z" fill="#3a3a3a"/>
<path d="M418.31 251.85l0.95 0.95l-0.95 0.95l-0.95 -0.95z" fill="#3a3a3a"/>
<path d="M418.31 293.5l0.95 0.95l-0.95 0.95l-0.95 -0.95z" fill="#3a3a3a"/>
<path d="M418.31 294.52l0.95 0.95l-0.95 0.95l-0.95 -0.95z" fill="#3a3a3a"/>
<path d="M418.31 295.54l0.95 0.95l-0.95 0.95l-0.95 -0.95z" fill="#3a3a3a"/>
<path d="M418.31 296.56l0.95 0.95l-0.95 0.95l-0.95 -0.95z" fill="#3a3a3a"/>
<path d="M418.31 297.75l0.95 0.95l-0.95 0.95l-0.95 -0.95z" fill="#3a3a3a"/>
<path d="M418.31 298.94l0.95 0.95l-0.95 0.95l-0.95 -0.95z" fill="#3a3a3a"/>
<path d="M418.31 300.3l0.95 0.95l-0.95 0.95l-0.95 -0.95z" fill="#3a3a3a"/>
<path d="M418.31 301.66l0.95 0.95l-0.95 0.95l-0.95 -0.95z" fill="#3a3a3a"/>
<path d="M418.31 303.02l0.95 0.95l-0.95 0.95l-0.95 -0.95z" fill="#3a3a3a"/>
<path d="M418.31 306.25l0.95 0.95l-0.95 0.95l-0.95 -0.95z" fill="#3a3a3a"/>
<line x1="445.87" x2="445.87" y1="267.59" y2="307.2" stroke="#6c6c6c" stroke-width="0.65"/>
<line x1="445.87" x2="445.87" y1="233.25" y2="190.58" stroke="#6c6c6c" stroke-width="0.65"/>
<line x1="442.43" x2="449.31" y1="190.58" y2="190.58" stroke="#6c6c6c" stroke-width="0.65"/>
<rect x="438.98" y="233.25" width="13.78" height="34.34" fill="#666666" stroke="#3d3d3d" stroke-width="0.55"/>
<line x1="438.98" x2="452.76" y1="252.12" y2="252.12" stroke="#3d3d3d" stroke-width="0.5"/>
<path d="M445.87 174.5l0.95 0.95l-0.95 0.95l-0.95 -0.95z" fill="#3a3a3a"/>
<path d="M445.87 176.37l0.95 0.95l-0.95 0.95l-0.95 -0.95z" fill="#3a3a3a"/>
<path d="M445.87 178.41l0.95 0.95l-0.95 0.95l-0.95 -0.95z" fill="#3a3a3a"/>
<path d="M445.87 180.45l0.95 0.95l-0.95 0.95l-0.95 -0.95z" fill="#3a3a3a"/>
<rect x="462.8" y="167.1" width="220.9" height="140.3" fill="#e4e4e4"/>
<line x1="462.8" x2="683.7" y1="290.77" y2="290.77" stroke="#ececec" stroke-width="0.9"/>
<line x1="462.8" x2="683.7" y1="273.64" y2="273.64" stroke="#ececec" stroke-width="0.9"/>
<line x1="462.8" x2="683.7" y1="256.51" y2="256.51" stroke="#ececec" stroke-width="0.9"/>
<line x1="462.8" x2="683.7" y1="239.38" y2="239.38" stroke="#ececec" stroke-width="0.9"/>
<line x1="462.8" x2="683.7" y1="222.25" y2="222.25" stroke="#ececec" stroke-width="0.9"/>
<line x1="462.8" x2="683.7" y1="205.12" y2="205.12" stroke="#ececec" stroke-width="0.9"/>
<line x1="462.8" x2="683.7" y1="187.99" y2="187.99" stroke="#ececec" stroke-width="0.9"/>
<line x1="462.8" x2="683.7" y1="170.86" y2="170.86" stroke="#ececec" stroke-width="0.9"/>
<line x1="461.2" x2="462.8" y1="307.9" y2="307.9" stroke="#d6d6d6" stroke-width="0.6"/>
<line x1="461.2" x2="462.8" y1="290.77" y2="290.77" stroke="#d6d6d6" stroke-width="0.6"/>
<line x1="461.2" x2="462.8" y1="273.64" y2="273.64" stroke="#d6d6d6" stroke-width="0.6"/>
<line x1="461.2" x2="462.8" y1="256.51" y2="256.51" stroke="#d6d6d6" stroke-width="0.6"/>
<line x1="461.2" x2="462.8" y1="239.38" y2="239.38" stroke="#d6d6d6" stroke-width="0.6"/>
<line x1="461.2" x2="462.8" y1="222.25" y2="222.25" stroke="#d6d6d6" stroke-width="0.6"/>
<line x1="461.2" x2="462.8" y1="205.12" y2="205.12" stroke="#d6d6d6" stroke-width="0.6"/>
<line x1="461.2" x2="462.8" y1="187.99" y2="187.99" stroke="#d6d6d6" stroke-width="0.6"/>
<line x1="461.2" x2="462.8" y1="170.86" y2="170.86" stroke="#d6d6d6" stroke-width="0.6"/>
<line x1="476.2" x2="476.2" y1="307.4" y2="309" stroke="#d0d0d0" stroke-width="0.6"/>
<line x1="503.97" x2="503.97" y1="307.4" y2="309" stroke="#d0d0d0" stroke-width="0.6"/>
<line x1="531.74" x2="531.74" y1="307.4" y2="309" stroke="#d0d0d0" stroke-width="0.6"/>
<line x1="559.51" x2="559.51" y1="307.4" y2="309" stroke="#d0d0d0" stroke-width="0.6"/>
<line x1="587.28" x2="587.28" y1="307.4" y2="309" stroke="#d0d0d0" stroke-width="0.6"/>
<line x1="615.05" x2="615.05" y1="307.4" y2="309" stroke="#d0d0d0" stroke-width="0.6"/>
<line x1="642.82" x2="642.82" y1="307.4" y2="309" stroke="#d0d0d0" stroke-width="0.6"/>
<line x1="670.59" x2="670.59" y1="307.4" y2="309" stroke="#d0d0d0" stroke-width="0.6"/>
<line x1="476.2" x2="476.2" y1="254.33" y2="307.2" stroke="#6c6c6c" stroke-width="0.65"/>
<line x1="476.2" x2="476.2" y1="211.15" y2="207.92" stroke="#6c6c6c" stroke-width="0.65"/>
<line x1="472.73" x2="479.67" y1="207.92" y2="207.92" stroke="#6c6c6c" stroke-width="0.65"/>
<rect x="469.26" y="211.15" width="13.88" height="43.18" fill="#8e4b7f" stroke="#3d3d3d" stroke-width="0.55"/>
<line x1="469.26" x2="483.14" y1="235.29" y2="235.29" stroke="#3d3d3d" stroke-width="0.5"/>
<line x1="503.97" x2="503.97" y1="228.32" y2="208.43" stroke="#6c6c6c" stroke-width="0.65"/>
<line x1="500.5" x2="507.44" y1="208.43" y2="208.43" stroke="#6c6c6c" stroke-width="0.65"/>
<rect x="497.03" y="228.32" width="13.88" height="25.33" fill="#be9eb8" stroke="#3d3d3d" stroke-width="0.55"/>
<line x1="497.03" x2="510.91" y1="233.25" y2="233.25" stroke="#3d3d3d" stroke-width="0.5"/>
<path d="M503.97 296.39l0.95 0.95l-0.95 0.95l-0.95 -0.95z" fill="#3a3a3a"/>
<line x1="531.74" x2="531.74" y1="251.78" y2="259.43" stroke="#6c6c6c" stroke-width="0.65"/>
<line x1="528.27" x2="535.21" y1="259.43" y2="259.43" stroke="#6c6c6c" stroke-width="0.65"/>
<line x1="531.74" x2="531.74" y1="231.04" y2="209.11" stroke="#6c6c6c" stroke-width="0.65"/>
<line x1="528.27" x2="535.21" y1="209.11" y2="209.11" stroke="#6c6c6c" stroke-width="0.65"/>
<rect x="524.8" y="231.04" width="13.88" height="20.74" fill="#66a09e" stroke="#3d3d3d" stroke-width="0.55"/>
<line x1="524.8" x2="538.68" y1="240.05" y2="240.05" stroke="#3d3d3d" stroke-width="0.5"/>
<line x1="552.57" x2="566.45" y1="263.5" y2="263.5" stroke="#9a9a9a" stroke-width="1.1"/>
<line x1="587.28" x2="587.28" y1="288.5" y2="307.2" stroke="#6c6c6c" stroke-width="0.65"/>
<line x1="587.28" x2="587.28" y1="247.87" y2="222.2" stroke="#6c6c6c" stroke-width="0.65"/>
<line x1="583.81" x2="590.75" y1="222.2" y2="222.2" stroke="#6c6c6c" stroke-width="0.65"/>
<rect x="580.34" y="247.87" width="13.88" height="40.63" fill="#a3aecb" stroke="#3d3d3d" stroke-width="0.55"/>
<line x1="580.34" x2="594.22" y1="272.35" y2="272.35" stroke="#3d3d3d" stroke-width="0.5"/>
<line x1="615.05" x2="615.05" y1="278.81" y2="307.2" stroke="#6c6c6c" stroke-width="0.65"/>
<line x1="615.05" x2="615.05" y1="250.08" y2="207.58" stroke="#6c6c6c" stroke-width="0.65"/>
<line x1="611.58" x2="618.52" y1="207.58" y2="207.58" stroke="#6c6c6c" stroke-width="0.65"/>
<rect x="608.11" y="250.08" width="13.88" height="28.73" fill="#9e9c62" stroke="#3d3d3d" stroke-width="0.55"/>
<line x1="608.11" x2="621.99" y1="261.13" y2="261.13" stroke="#3d3d3d" stroke-width="0.5"/>
<line x1="642.82" x2="642.82" y1="255.35" y2="295.3" stroke="#6c6c6c" stroke-width="0.65"/>
<line x1="639.35" x2="646.29" y1="295.3" y2="295.3" stroke="#6c6c6c" stroke-width="0.65"/>
<line x1="642.82" x2="642.82" y1="227.64" y2="215.06" stroke="#6c6c6c" stroke-width="0.65"/>
<line x1="639.35" x2="646.29" y1="215.06" y2="215.06" stroke="#6c6c6c" stroke-width="0.65"/>
<rect x="635.88" y="227.64" width="13.88" height="27.71" fill="#d2d38f" stroke="#3d3d3d" stroke-width="0.55"/>
<line x1="635.88" x2="649.76" y1="240.39" y2="240.39" stroke="#3d3d3d" stroke-width="0.5"/>
<line x1="670.59" x2="670.59" y1="278.47" y2="307.2" stroke="#6c6c6c" stroke-width="0.65"/>
<line x1="670.59" x2="670.59" y1="250.08" y2="207.92" stroke="#6c6c6c" stroke-width="0.65"/>
<line x1="667.12" x2="674.06" y1="207.92" y2="207.92" stroke="#6c6c6c" stroke-width="0.65"/>
<rect x="663.65" y="250.08" width="13.88" height="28.39" fill="#666666" stroke="#3d3d3d" stroke-width="0.55"/>
<line x1="663.65" x2="677.53" y1="266.06" y2="266.06" stroke="#3d3d3d" stroke-width="0.5"/>
<path d="M670.59 174.5l0.95 0.95l-0.95 0.95l-0.95 -0.95z" fill="#3a3a3a"/>
<path d="M670.59 176.37l0.95 0.95l-0.95 0.95l-0.95 -0.95z" fill="#3a3a3a"/>
<path d="M670.59 178.41l0.95 0.95l-0.95 0.95l-0.95 -0.95z" fill="#3a3a3a"/>
<path d="M670.59 180.45l0.95 0.95l-0.95 0.95l-0.95 -0.95z" fill="#3a3a3a"/>
<path d="M670.59 189.8l0.95 0.95l-0.95 0.95l-0.95 -0.95z" fill="#3a3a3a"/>
<path d="M670.59 190.99l0.95 0.95l-0.95 0.95l-0.95 -0.95z" fill="#3a3a3a"/>
<path d="M670.59 196.77l0.95 0.95l-0.95 0.95l-0.95 -0.95z" fill="#3a3a3a"/>
<path d="M670.59 199.66l0.95 0.95l-0.95 0.95l-0.95 -0.95z" fill="#3a3a3a"/>
<path d="M670.59 204.76l0.95 0.95l-0.95 0.95l-0.95 -0.95z" fill="#3a3a3a"/>
<rect x="170.6" y="341.6" width="365" height="50.7" rx="2" fill="#fff" stroke="#e2e2e2" stroke-width="0.8"/>
<rect x="174.0" y="345" width="17.6" height="5.9" fill="#994085"/>
<rect x="174.0" y="357" width="17.6" height="5.9" fill="#c399bb"/>
<rect x="174.0" y="369" width="17.6" height="5.9" fill="#5caaa7"/>
<rect x="174.0" y="381" width="17.6" height="5.9" fill="#8cc9cc"/>
<rect x="351.8" y="345" width="17.6" height="5.9" fill="#9cabd2"/>
<rect x="351.8" y="357" width="17.6" height="5.9" fill="#a8a558"/>
<rect x="351.8" y="369" width="17.6" height="5.9" fill="#ddde84"/>
<rect x="351.8" y="381" width="17.6" height="5.9" fill="#666666"/>
<g filter="url(#tb)"><text transform="translate(127.25,6.9) scale(1.05,1.04)" class="t" text-anchor="middle">HPO</text>
<text transform="translate(32.55,157.1) scale(0.97,1.06)" class="k" text-anchor="middle">1</text>
<text transform="translate(59.65,157.1) scale(0.97,1.06)" class="k" text-anchor="middle">2</text>
<text transform="translate(86.75,157.1) scale(0.97,1.06)" class="k" text-anchor="middle">3</text>
<text transform="translate(113.85,157.1) scale(0.97,1.06)" class="k" text-anchor="middle">4</text>
<text transform="translate(140.95,157.1) scale(0.97,1.06)" class="k" text-anchor="middle">5</text>
<text transform="translate(168.05,157.1) scale(0.97,1.06)" class="k" text-anchor="middle">6</text>
<text transform="translate(195.15,157.1) scale(0.97,1.06)" class="k" text-anchor="middle">7</text>
<text transform="translate(222.25,157.1) scale(0.97,1.06)" class="k" text-anchor="middle">8</text>
<text transform="translate(17.7,152.74) scale(0.97,1.06)" class="k" text-anchor="end">0</text>
<text transform="translate(17.7,135.69) scale(0.97,1.06)" class="k" text-anchor="end">1</text>
<text transform="translate(17.7,118.64) scale(0.97,1.06)" class="k" text-anchor="end">2</text>
<text transform="translate(17.7,101.59) scale(0.97,1.06)" class="k" text-anchor="end">3</text>
<text transform="translate(17.7,84.54) scale(0.97,1.06)" class="k" text-anchor="end">4</text>
<text transform="translate(17.7,67.49) scale(0.97,1.06)" class="k" text-anchor="end">5</text>
<text transform="translate(17.7,50.44) scale(0.97,1.06)" class="k" text-anchor="end">6</text>
<text transform="translate(17.7,33.39) scale(0.97,1.06)" class="k" text-anchor="end">7</text>
<text transform="translate(17.7,16.34) scale(0.97,1.06)" class="k" text-anchor="end">8</text>
<text transform="translate(349.3,6.9) scale(1.05,1.04)" class="t" text-anchor="middle">Uberon</text>
<text transform="translate(252.85,157.1) scale(0.97,1.06)" class="k" text-anchor="middle">1</text>
<text transform="translate(280.43,157.1) scale(0.97,1.06)" class="k" text-anchor="middle">2</text>
<text transform="translate(308,157.1) scale(0.97,1.06)" class="k" text-anchor="middle">3</text>
<text transform="translate(335.57,157.1) scale(0.97,1.06)" class="k" text-anchor="middle">4</text>
<text transform="translate(363.15,157.1) scale(0.97,1.06)" class="k" text-anchor="middle">5</text>
<text transform="translate(390.73,157.1) scale(0.97,1.06)" class="k" text-anchor="middle">6</text>
<text transform="translate(418.3,157.1) scale(0.97,1.06)" class="k" text-anchor="middle">7</text>
<text transform="translate(445.88,157.1) scale(0.97,1.06)" class="k" text-anchor="middle">8</text>
<text transform="translate(573.15,6.9) scale(1.05,1.04)" class="t" text-anchor="middle">NCBITaxon</text>
<text transform="translate(476.1,157.1) scale(0.97,1.06)" class="k" text-anchor="middle">1</text>
<text transform="translate(503.88,157.1) scale(0.97,1.06)" class="k" text-anchor="middle">2</text>
<text transform="translate(531.66,157.1) scale(0.97,1.06)" class="k" text-anchor="middle">3</text>
<text transform="translate(559.44,157.1) scale(0.97,1.06)" class="k" text-anchor="middle">4</text>
<text transform="translate(587.22,157.1) scale(0.97,1.06)" class="k" text-anchor="middle">5</text>
<text transform="translate(615,157.1) scale(0.97,1.06)" class="k" text-anchor="middle">6</text>
<text transform="translate(642.78,157.1) scale(0.97,1.06)" class="k" text-anchor="middle">7</text>
<text transform="translate(670.56,157.1) scale(0.97,1.06)" class="k" text-anchor="middle">8</text>
<text transform="translate(127.4,165.1) scale(1.05,1.04)" class="t" text-anchor="middle">PRO</text>
<text transform="translate(33.4,314.8) scale(0.97,1.06)" class="k" text-anchor="middle">1</text>
<text transform="translate(60.37,314.8) scale(0.97,1.06)" class="k" text-anchor="middle">2</text>
<text transform="translate(87.34,314.8) scale(0.97,1.06)" class="k" text-anchor="middle">3</text>
<text transform="translate(114.31,314.8) scale(0.97,1.06)" class="k" text-anchor="middle">4</text>
<text transform="translate(141.28,314.8) scale(0.97,1.06)" class="k" text-anchor="middle">5</text>
<text transform="translate(168.25,314.8) scale(0.97,1.06)" class="k" text-anchor="middle">6</text>
<text transform="translate(195.22,314.8) scale(0.97,1.06)" class="k" text-anchor="middle">7</text>
<text transform="translate(222.19,314.8) scale(0.97,1.06)" class="k" text-anchor="middle">8</text>
<text transform="translate(18.6,311.28) scale(0.97,1.06)" class="k" text-anchor="end">0</text>
<text transform="translate(18.6,294.25) scale(0.97,1.06)" class="k" text-anchor="end">1</text>
<text transform="translate(18.6,277.22) scale(0.97,1.06)" class="k" text-anchor="end">2</text>
<text transform="translate(18.6,260.19) scale(0.97,1.06)" class="k" text-anchor="end">3</text>
<text transform="translate(18.6,243.16) scale(0.97,1.06)" class="k" text-anchor="end">4</text>
<text transform="translate(18.6,226.13) scale(0.97,1.06)" class="k" text-anchor="end">5</text>
<text transform="translate(18.6,209.1) scale(0.97,1.06)" class="k" text-anchor="end">6</text>
<text transform="translate(18.6,192.07) scale(0.97,1.06)" class="k" text-anchor="end">7</text>
<text transform="translate(18.6,175.04) scale(0.97,1.06)" class="k" text-anchor="end">8</text>
<text transform="translate(349.5,165.1) scale(1.05,1.04)" class="t" text-anchor="middle">ChEBI</text>
<text transform="translate(252.95,314.8) scale(0.97,1.06)" class="k" text-anchor="middle">1</text>
<text transform="translate(280.51,314.8) scale(0.97,1.06)" class="k" text-anchor="middle">2</text>
<text transform="translate(308.07,314.8) scale(0.97,1.06)" class="k" text-anchor="middle">3</text>
<text transform="translate(335.63,314.8) scale(0.97,1.06)" class="k" text-anchor="middle">4</text>
<text transform="translate(363.19,314.8) scale(0.97,1.06)" class="k" text-anchor="middle">5</text>
<text transform="translate(390.75,314.8) scale(0.97,1.06)" class="k" text-anchor="middle">6</text>
<text transform="translate(418.31,314.8) scale(0.97,1.06)" class="k" text-anchor="middle">7</text>
<text transform="translate(445.87,314.8) scale(0.97,1.06)" class="k" text-anchor="middle">8</text>
<text transform="translate(573.25,165.1) scale(1.05,1.04)" class="t" text-anchor="middle">CL</text>
<text transform="translate(476.2,314.8) scale(0.97,1.06)" class="k" text-anchor="middle">1</text>
<text transform="translate(503.97,314.8) scale(0.97,1.06)" class="k" text-anchor="middle">2</text>
<text transform="translate(531.74,314.8) scale(0.97,1.06)" class="k" text-anchor="middle">3</text>
<text transform="translate(559.51,314.8) scale(0.97,1.06)" class="k" text-anchor="middle">4</text>
<text transform="translate(587.28,314.8) scale(0.97,1.06)" class="k" text-anchor="middle">5</text>
<text transform="translate(615.05,314.8) scale(0.97,1.06)" class="k" text-anchor="middle">6</text>
<text transform="translate(642.82,314.8) scale(0.97,1.06)" class="k" text-anchor="middle">7</text>
<text transform="translate(670.59,314.8) scale(0.97,1.06)" class="k" text-anchor="middle">8</text>
<text transform="translate(6.5,158.2) rotate(-90) scale(1,1.14)" class="yl" text-anchor="middle">Concept Frequency (log<tspan font-size="4.1" dy="1.7">10</tspan><tspan dy="-1.7">)</tspan></text>
<text transform="translate(342.6,330.9) scale(1.05,1.04)" class="l" text-anchor="middle">Mapping Category</text>
<text transform="translate(198.9,351.4) scale(1.05,1.04)" class="l">1: Automatic One-to-One Concept</text>
<text transform="translate(198.9,363.4) scale(1.05,1.04)" class="l">2: Automatic One-to-One Ancestor</text>
<text transform="translate(198.9,375.4) scale(1.05,1.04)" class="l">3: Automatic One-to-Many Concept</text>
<text transform="translate(198.9,387.4) scale(1.05,1.04)" class="l">4: Automatic One-to-Many Ancestor</text>
<text transform="translate(376.2,351.4) scale(1.05,1.04)" class="l">5: Cosine Similarity One-to-One Concept</text>
<text transform="translate(376.2,363.4) scale(1.05,1.04)" class="l">6: Manual One-to-One Concept</text>
<text transform="translate(376.2,375.4) scale(1.05,1.04)" class="l">7: Manual One-to-Many Concept</text>
<text transform="translate(376.2,387.4) scale(1.05,1.04)" class="l">8: Unmapped</text></g>
</svg></body></html>
